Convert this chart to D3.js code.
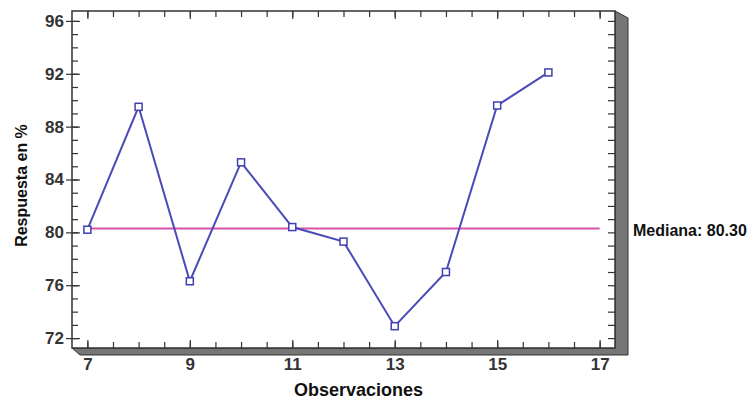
<!DOCTYPE html>
<html>
<head>
<meta charset="utf-8">
<script src="https://cdn.jsdelivr.net/npm/d3@7"></script>
<style>
  body { margin: 0; background: #fff; }
  text { font-family: "Liberation Sans", Arial, sans-serif; font-weight: bold; }
</style>
</head>
<body>
<svg id="chart"></svg>
<script>
// values
const observaciones = [7, 8, 9, 10, 11, 12, 13, 14, 15, 16];
const respuesta = [80.2, 89.5, 76.3, 85.3, 80.4, 79.3, 72.9, 77.0, 89.6, 92.1];
const mediana = 80.30;
const xTicks = [7, 9, 11, 13, 15, 17];
const yTicks = [72, 76, 80, 84, 88, 92, 96];

const width = 748, height = 401;
const margin = { top: 11, right: 133, bottom: 53, left: 72 };

const svg = d3.select("svg#chart")
    .attr("width", width)
    .attr("height", height);

const x = d3.scaleLinear().domain([6.7, 17.3]).range([margin.left, width - margin.right]);
const y = d3.scaleLinear().domain([71.25, 96.75]).range([height - margin.bottom, margin.top]);

const [x0, x1] = x.range();
const [y1, y0] = y.range();
const depth = 13;

// 3d shadow of the frame (right and bottom)
svg.append("polygon")
    .attr("points", [
      [x1, y0], [x1 + depth, y0 + 7], [x1 + depth, y1 + 7],
      [x0 + 8, y1 + 7], [x0, y1], [x1, y1]
    ].join(" "))
    .attr("fill", "#767676")
    .attr("stroke", "#333")
    .attr("stroke-width", 1);

svg.append("rect")
    .attr("x", x0).attr("y", y0)
    .attr("width", x1 - x0).attr("height", y1 - y0)
    .attr("fill", "#fff")
    .attr("stroke", "#333")
    .attr("stroke-width", 1.5);

const tickStyle = g => {
  g.select(".domain").remove();
  g.selectAll(".tick line").attr("stroke", "#333").attr("stroke-width", 1.2);
};

// minor ticks on all sides
const minorX = d3.range(7, 17.01, 0.5);
const minorY = d3.range(72, 96.01, 1);
svg.append("g").attr("transform", `translate(0,${y1})`)
    .call(d3.axisBottom(x).tickValues(minorX).tickSize(-6).tickFormat(""))
    .call(tickStyle);
svg.append("g").attr("transform", `translate(0,${y0})`)
    .call(d3.axisTop(x).tickValues(minorX).tickSize(-6).tickFormat(""))
    .call(tickStyle);
svg.append("g").attr("transform", `translate(${x0},0)`)
    .call(d3.axisLeft(y).tickValues(minorY).tickSize(-6).tickFormat(""))
    .call(tickStyle);
svg.append("g").attr("transform", `translate(${x1},0)`)
    .call(d3.axisRight(y).tickValues(minorY).tickSize(-7).tickFormat(""))
    .call(tickStyle);

// major ticks with labels
const yAxis = svg.append("g").attr("transform", `translate(${x0},0)`)
    .call(d3.axisLeft(y).tickValues(yTicks).tickSize(6).tickPadding(2))
    .call(tickStyle);
yAxis.selectAll(".tick line").attr("x1", 8);
yAxis.selectAll("text").attr("font-size", 17).attr("fill", "#333");

const xAxis = svg.append("g").attr("transform", `translate(0,${y1})`)
    .call(d3.axisBottom(x).tickValues(xTicks).tickSize(0).tickPadding(10))
    .call(tickStyle);
xAxis.selectAll("text").attr("font-size", 17).attr("fill", "#333");

svg.append("g").attr("transform", `translate(0,${y1})`)
    .call(d3.axisBottom(x).tickValues(xTicks).tickSize(-8).tickFormat(""))
    .call(tickStyle);
svg.append("g").attr("transform", `translate(0,${y0})`)
    .call(d3.axisTop(x).tickValues(xTicks).tickSize(-8).tickFormat(""))
    .call(tickStyle);

// median line
svg.append("line")
    .attr("x1", x(d3.min(xTicks))).attr("x2", x(d3.max(xTicks)))
    .attr("y1", y(mediana)).attr("y2", y(mediana))
    .attr("stroke", "#d652aa")
    .attr("stroke-width", 2);

svg.append("text")
    .attr("x", x1 + 18)
    .attr("y", y(mediana) + 8)
    .attr("font-size", 16)
    .attr("fill", "#111")
    .text(`Mediana: ${mediana.toFixed(2)}`);

// series
const data = observaciones.map((d, i) => ({ obs: d, val: respuesta[i] }));

svg.append("path")
    .datum(data)
    .attr("fill", "none")
    .attr("stroke", "#4a4ab8")
    .attr("stroke-width", 2)
    .attr("d", d3.line().x(d => x(d.obs)).y(d => y(d.val)));

svg.selectAll("rect.marker").data(data)
  .enter().append("rect")
    .attr("class", "marker")
    .attr("x", d => x(d.obs) - 3.5)
    .attr("y", d => y(d.val) - 3.5)
    .attr("width", 7)
    .attr("height", 7)
    .attr("fill", "#fff")
    .attr("stroke", "#4040b0")
    .attr("stroke-width", 1.5);

// axis titles
svg.append("text")
    .attr("x", (x0 + x1) / 2 + 15)
    .attr("y", 396)
    .attr("text-anchor", "middle")
    .attr("font-size", 18)
    .attr("fill", "#111")
    .text("Observaciones");

svg.append("text")
    .attr("transform", `translate(27,${(y0 + y1) / 2 + 6}) rotate(-90)`)
    .attr("text-anchor", "middle")
    .attr("font-size", 16)
    .attr("fill", "#111")
    .text("Respuesta en %");
</script>
</body>
</html>
